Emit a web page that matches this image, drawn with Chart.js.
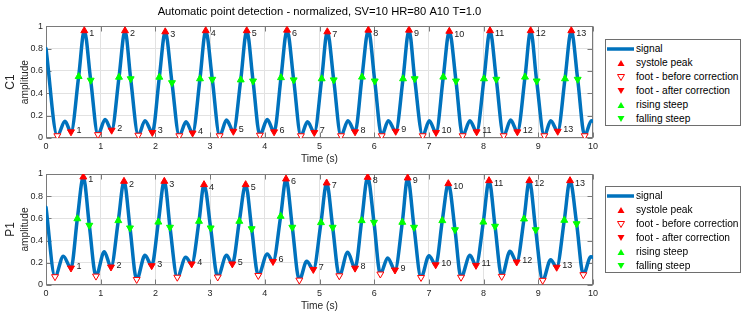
<!DOCTYPE html>
<html><head><meta charset="utf-8">
<script src="https://cdn.jsdelivr.net/npm/chart.js@4/dist/chart.umd.min.js"></script>
<style>
html,body{margin:0;padding:0;background:#fff;width:747px;height:318px;overflow:hidden;font-family:"Liberation Sans",Arial,sans-serif;}
canvas{position:absolute;left:0;}
#c1{top:0;}
#c2{top:150px;}
.legend{position:absolute;left:605px;width:134px;height:85px;border:1px solid #6e6e6e;background:#fff;font-size:10.2px;color:#000;}
.row{position:absolute;left:1px;height:14px;line-height:14px;white-space:nowrap;width:132px;}
.row svg{position:absolute;left:0;top:0;}
.row span{position:absolute;left:29px;top:0;}
</style>
</head><body>
<canvas id="c1" width="747" height="168"></canvas>
<canvas id="c2" width="747" height="168"></canvas>
<script>
// ---- texts ----
const TITLE_TEXT = 'Automatic point detection - normalized, SV=10 HR=80 A10 T=1.0';
const X_TITLE = 'Time (s)';
const Y_TITLE = 'amplitude';
const LEGEND_LABELS = ['signal', 'systole peak', 'foot - before correction', 'foot - after correction', 'rising steep', 'falling steep'];
const xTickValues = [0, 1, 2, 3, 4, 5, 6, 7, 8, 9, 10];
const yTickValues = [0, 0.2, 0.4, 0.6, 0.8, 1];

// ---- C1 (top) ----
const c1EdgeT = [0, 10];
const c1EdgeY = [0.80, 0.15];
const c1BumpT = [0.347, 1.08, 1.81, 2.56, 3.30, 4.045, 4.78, 5.52, 6.258, 7.007, 7.75, 8.495, 9.227, 9.97];
const c1BumpY = [0.15, 0.165, 0.155, 0.145, 0.16, 0.165, 0.145, 0.155, 0.155, 0.155, 0.155, 0.16, 0.155, 0.155];
const c1PeakT = [0.700, 1.444, 2.180, 2.920, 3.670, 4.406, 5.143, 5.893, 6.636, 7.373, 8.117, 8.860, 9.603];
const c1PeakY = [0.96, 0.96, 0.95, 0.96, 0.96, 0.965, 0.95, 0.965, 0.965, 0.955, 0.96, 0.96, 0.96];
const c1FootBT = [0.207, 0.950, 1.688, 2.437, 3.175, 3.910, 4.660, 5.393, 6.137, 6.887, 7.617, 8.367, 9.110, 9.848];
const c1FootBY = [0.02, 0.03, 0.025, 0.02, 0.02, 0.025, 0.02, 0.02, 0.02, 0.02, 0.02, 0.02, 0.02, 0.02];
const c1FootAT = [0.457, 1.200, 1.944, 2.680, 3.425, 4.170, 4.905, 5.650, 6.393, 7.130, 7.873, 8.617, 9.355];
const c1FootAY = [0.055, 0.07, 0.05, 0.045, 0.06, 0.055, 0.05, 0.055, 0.06, 0.05, 0.055, 0.055, 0.06];
const c1RiseT = [0.597, 1.335, 2.072, 2.815, 3.560, 4.296, 5.040, 5.777, 6.527, 7.263, 8.007, 8.757, 9.488];
const c1RiseY = [0.55, 0.544, 0.544, 0.53, 0.52, 0.54, 0.53, 0.545, 0.53, 0.545, 0.53, 0.545, 0.53];
const c1FallT = [0.817, 1.548, 2.303, 3.040, 3.785, 4.528, 5.260, 6.010, 6.740, 7.495, 8.232, 8.970, 9.720];
const c1FallY = [0.517, 0.53, 0.495, 0.525, 0.51, 0.52, 0.52, 0.51, 0.53, 0.51, 0.525, 0.51, 0.525];

// ---- P1 (bottom) ----
const p1EdgeT = [0, 10];
const p1EdgeY = [0.70, 0.25];
const p1BumpT = [0.317, 1.066, 1.810, 2.554, 3.300, 4.045, 4.766, 5.515, 6.246, 7.002, 7.751, 8.483, 9.227, 9.960];
const p1BumpY = [0.26, 0.30, 0.267, 0.25, 0.267, 0.28, 0.213, 0.294, 0.243, 0.264, 0.267, 0.303, 0.228, 0.255];
const p1PeakT = [0.682, 1.426, 2.163, 2.889, 3.650, 4.388, 5.131, 5.881, 6.612, 7.355, 8.099, 8.836, 9.580];
const p1PeakY = [0.973, 0.934, 0.934, 0.904, 0.904, 0.955, 0.919, 0.970, 0.964, 0.913, 0.940, 0.940, 0.940];
const p1FootBT = [0.165, 0.914, 1.658, 2.400, 3.139, 3.881, 4.631, 5.362, 6.112, 6.856, 7.587, 8.331, 9.080, 9.823];
const p1FootBY = [0.075, 0.08, 0.05, 0.07, 0.072, 0.086, 0.044, 0.083, 0.099, 0.068, 0.07, 0.078, 0.042, 0.093];
const p1FootAT = [0.457, 1.188, 1.932, 2.663, 3.406, 4.150, 4.887, 5.650, 6.380, 7.124, 7.861, 8.605, 9.336];
const p1FootAY = [0.153, 0.162, 0.174, 0.19, 0.19, 0.212, 0.14, 0.152, 0.135, 0.182, 0.177, 0.207, 0.16];
const p1RiseT = [0.573, 1.322, 2.054, 2.797, 3.534, 4.290, 5.027, 5.771, 6.514, 7.245, 7.995, 8.739, 9.475];
const p1RiseY = [0.597, 0.58, 0.567, 0.574, 0.574, 0.619, 0.562, 0.58, 0.565, 0.58, 0.567, 0.595, 0.583];
const p1FallT = [0.792, 1.536, 2.267, 3.010, 3.760, 4.503, 5.241, 5.996, 6.728, 7.477, 8.209, 8.952, 9.701];
const p1FallY = [0.538, 0.514, 0.52, 0.514, 0.507, 0.52, 0.52, 0.565, 0.52, 0.498, 0.529, 0.498, 0.552];

// ---- styles ----
const BLUE = '#0072BD', RED = '#ff0000', GREEN = '#00ff00';
const TICK = '#262626', GRID = '#e2e2e2', FRAME = '#7a7a7a';
const FONT = '"Liberation Sans", Arial, Helvetica, sans-serif';
Chart.defaults.font.family = FONT;

function pts(xs, ys) { return xs.map((x, i) => ({ x: x, y: ys[i] })); }
function signalPoints(s) {
  return [].concat(
    pts(s.edgeT, s.edgeY), pts(s.bumpT, s.bumpY), pts(s.footBT, s.footBY),
    pts(s.footAT, s.footAY), pts(s.riseT, s.riseY), pts(s.peakT, s.peakY), pts(s.fallT, s.fallY)
  ).sort((a, b) => a.x - b.x);
}

const framePlugin = {
  id: 'frame',
  beforeDatasetsDraw(chart) {
    const { ctx, chartArea: a, scales } = chart;
    ctx.save();
    ctx.strokeStyle = FRAME; ctx.lineWidth = 1;
    const L = Math.round(a.left) + 0.5, R = Math.round(a.right) - 0.5;
    const T = Math.round(a.top) + 0.5, B = Math.round(a.bottom) - 0.5;
    ctx.strokeRect(L, T, R - L, B - T);
    ctx.beginPath();
    xTickValues.forEach(v => {
      const px = Math.round(scales.x.getPixelForValue(v)) + 0.5;
      ctx.moveTo(px, B); ctx.lineTo(px, B - 5);
      ctx.moveTo(px, T); ctx.lineTo(px, T + 5);
    });
    yTickValues.forEach(v => {
      const py = Math.round(scales.y.getPixelForValue(v)) + 0.5;
      ctx.moveTo(L, py); ctx.lineTo(L + 5, py);
      ctx.moveTo(R, py); ctx.lineTo(R - 5, py);
    });
    ctx.stroke();
    ctx.restore();
  }
};

const numPlugin = {
  id: 'nums',
  afterDatasetsDraw(chart) {
    const ctx = chart.ctx;
    ctx.save();
    ctx.font = '9px ' + FONT;
    ctx.fillStyle = '#1a1a1a';
    ctx.textAlign = 'left';
    ctx.textBaseline = 'middle';
    chart.data.datasets.forEach((ds, i) => {
      if (!ds.numLabel) return;
      chart.getDatasetMeta(i).data.forEach((el, j) => {
        ctx.fillText(String(j + 1), el.x + ds.numLabel.dx, el.y + ds.numLabel.dy);
      });
    });
    ctx.restore();
  }
};

function marker(label, data, up, fill, stroke, extra) {
  return Object.assign({
    label: label, data: data, pointStyle: 'triangle', pointRotation: up ? 0 : 180,
    pointRadius: 4, pointHoverRadius: 4, backgroundColor: fill, borderColor: stroke,
    borderWidth: 1, showLine: false, order: 0
  }, extra || {});
}

function makeChart(id, s) {
  return new Chart(document.getElementById(id), {
    type: 'scatter',
    data: {
      datasets: [
        { label: LEGEND_LABELS[0], data: signalPoints(s), showLine: true, borderColor: BLUE, backgroundColor: BLUE,
          borderWidth: 3.5, pointRadius: 0, pointHoverRadius: 0, cubicInterpolationMode: 'monotone',
          borderJoinStyle: 'round', borderCapStyle: 'round', order: 1 },
        marker(LEGEND_LABELS[1], pts(s.peakT, s.peakY), true, RED, RED, { numLabel: { dx: 5, dy: 3 } }),
        marker(LEGEND_LABELS[2], pts(s.footBT, s.footBY), false, '#ffffff', RED),
        marker(LEGEND_LABELS[3], pts(s.footAT, s.footAY), false, RED, RED, { numLabel: { dx: 5.5, dy: -1.5 } }),
        marker(LEGEND_LABELS[4], pts(s.riseT, s.riseY), true, GREEN, GREEN),
        marker(LEGEND_LABELS[5], pts(s.fallT, s.fallY), false, GREEN, GREEN)
      ]
    },
    options: {
      responsive: false, animation: false, events: [],
      layout: { padding: { left: 0, right: 154, top: s.padTop, bottom: s.padBottom } },
      plugins: {
        legend: { display: false }, tooltip: { enabled: false },
        title: { display: s.showTitle, text: TITLE_TEXT, fullSize: false, color: '#000',
          font: { size: 11.2, weight: 'normal' }, padding: { top: 5.4, bottom: 7.4 } }
      },
      scales: {
        x: {
          type: 'linear', min: 0, max: 10,
          afterBuildTicks: sc => { sc.ticks = xTickValues.map(v => ({ value: v })); },
          afterFit: sc => { sc.height = 30; },
          grid: { color: GRID, drawTicks: false }, border: { display: false },
          ticks: { padding: 3, color: TICK, font: { size: 9 }, maxRotation: 0, autoSkip: false, callback: v => String(v) },
          title: { display: true, text: X_TITLE, color: TICK, font: { size: 10.2 }, padding: { top: 0, bottom: 2.7 } }
        },
        y: {
          type: 'linear', position: 'left', weight: 0, min: 0, max: 1,
          afterBuildTicks: sc => { sc.ticks = yTickValues.map(v => ({ value: v })); },
          afterFit: sc => { sc.width = 29; },
          grid: { color: GRID, drawTicks: false }, border: { display: false },
          ticks: { padding: 3, color: TICK, font: { size: 9 }, autoSkip: false, callback: v => String(v) },
          title: { display: true, text: Y_TITLE, color: TICK, font: { size: 10.2 }, padding: { top: 1.9, bottom: 0 } }
        },
        yName: {
          type: 'linear', position: 'left', weight: 1,
          afterFit: sc => { sc.width = 17; },
          grid: { display: false, drawTicks: false }, border: { display: false },
          ticks: { display: false },
          title: { display: true, text: s.name, color: TICK, font: { size: 12 }, padding: { top: 3.6, bottom: 0 } }
        }
      }
    },
    plugins: [framePlugin, numPlugin]
  });
}

makeChart('c1', {
  name: 'C1', showTitle: true, padTop: 0, padBottom: 0,
  edgeT: c1EdgeT, edgeY: c1EdgeY, bumpT: c1BumpT, bumpY: c1BumpY, peakT: c1PeakT, peakY: c1PeakY,
  footBT: c1FootBT, footBY: c1FootBY, footAT: c1FootAT, footAY: c1FootAY,
  riseT: c1RiseT, riseY: c1RiseY, fallT: c1FallT, fallY: c1FallY
});
makeChart('c2', {
  name: 'P1', showTitle: false, padTop: 24, padBottom: 3,
  edgeT: p1EdgeT, edgeY: p1EdgeY, bumpT: p1BumpT, bumpY: p1BumpY, peakT: p1PeakT, peakY: p1PeakY,
  footBT: p1FootBT, footBY: p1FootBY, footAT: p1FootAT, footAY: p1FootAY,
  riseT: p1RiseT, riseY: p1RiseY, fallT: p1FallT, fallY: p1FallY
});

// ---- legends (HTML) ----
const ICONS = [
  '<svg width="27" height="14"><line x1="0" y1="7" x2="27" y2="7" stroke="' + BLUE + '" stroke-width="3.5"/></svg>',
  '<svg width="27" height="14"><polygon points="14,4 17.5,10 10.5,10" fill="' + RED + '"/></svg>',
  '<svg width="27" height="14"><polygon points="10.5,4.5 17.5,4.5 14,10.5" fill="#fff" stroke="' + RED + '" stroke-width="1"/></svg>',
  '<svg width="27" height="14"><polygon points="10.5,4 17.5,4 14,10" fill="' + RED + '"/></svg>',
  '<svg width="27" height="14"><polygon points="14,4 17.5,10 10.5,10" fill="' + GREEN + '"/></svg>',
  '<svg width="27" height="14"><polygon points="10.5,4 17.5,4 14,10" fill="' + GREEN + '"/></svg>'
];
function makeLegend(top) {
  const box = document.createElement('div');
  box.className = 'legend';
  box.style.top = top + 'px';
  LEGEND_LABELS.forEach((lab, i) => {
    const row = document.createElement('div');
    row.className = 'row';
    row.style.top = (1.5 + 14 * i) + 'px';
    row.innerHTML = ICONS[i] + '<span>' + lab + '</span>';
    box.appendChild(row);
  });
  document.body.appendChild(box);
}
makeLegend(39);
makeLegend(186);
</script>
</body></html>
